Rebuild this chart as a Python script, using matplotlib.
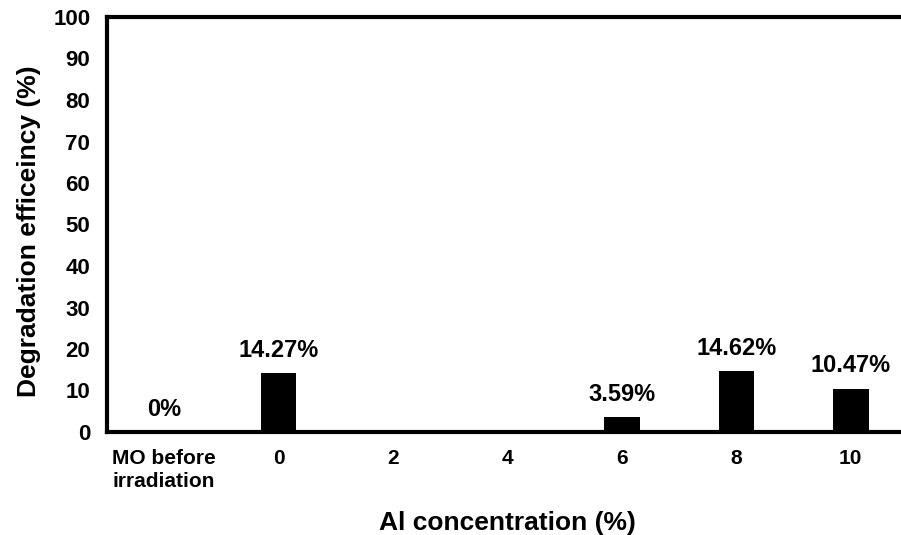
import numpy as np
import matplotlib.pyplot as plt

plt.rcParams["font.family"] = ["Liberation Sans", "DejaVu Sans"]
plt.rcParams["font.weight"] = "bold"

categories = ["MO before\nirradiation", "0", "2", "4", "6", "8", "10"]
efficiency = [0, 14.27, np.nan, np.nan, 3.59, 14.62, 10.47]
labels = ["0%", "14.27%", "", "", "3.59%", "14.62%", "10.47%"]


def main(output_png="out.png"):
    fig = plt.figure(figsize=(9.01, 5.35), dpi=100)
    ax = fig.add_axes([107 / 901, 103 / 535, 801 / 901, 415 / 535])

    x = np.arange(len(categories))
    vals = np.nan_to_num(efficiency)
    ax.bar(x, vals, width=0.31, color="black")

    for xi, v, lab in zip(x, vals, labels):
        if lab:
            ax.annotate(lab, (xi, v), xytext=(0, 8), textcoords="offset points",
                        ha="center", va="bottom", fontsize=17, fontweight="bold")

    ax.set_xlim(-0.5, len(categories) - 0.5)
    ax.set_ylim(0, 100)
    ax.set_yticks(np.arange(0, 101, 10))
    ax.set_xticks(x)
    ax.set_xticklabels(categories, fontsize=15, fontweight="bold",
                       multialignment="left", linespacing=1.3)
    ax.tick_params(axis="y", labelsize=16, length=0, pad=12)
    ax.tick_params(axis="x", length=0, pad=12)

    for side in ["left", "top", "bottom"]:
        ax.spines[side].set_linewidth(3)
    ax.spines["right"].set_visible(False)

    ax.set_ylabel("Degradation efficeincy (%)", fontsize=19, fontweight="bold")
    ax.yaxis.set_label_coords(-0.082, 0.485)
    ax.set_xlabel("Al concentration (%)", fontsize=19, fontweight="bold", labelpad=14)

    fig.savefig(output_png, dpi=100)
    plt.close(fig)


if __name__ == "__main__":
    main()
